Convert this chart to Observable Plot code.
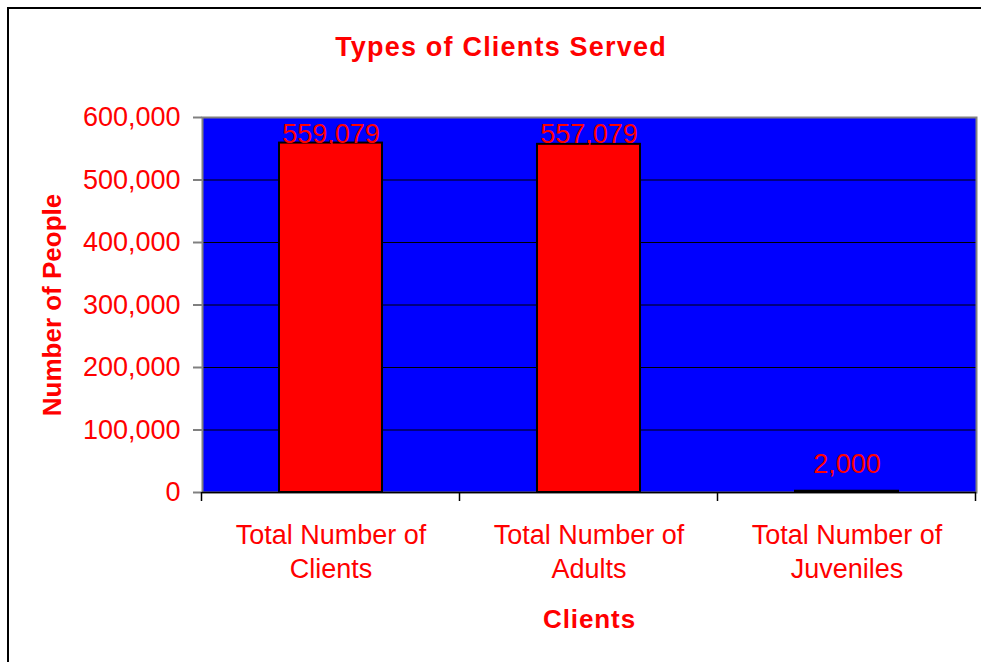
<!DOCTYPE html>
<html>
<head>
<meta charset="utf-8">
<script src="https://cdn.jsdelivr.net/npm/d3@7"></script>
<script src="https://cdn.jsdelivr.net/npm/@observablehq/plot@0.6"></script>
<style>
  html, body { margin: 0; padding: 0; background: #ffffff; }
  #wrap { position: relative; width: 981px; height: 662px; overflow: hidden; font-family: "Liberation Sans", Arial, sans-serif; }
  #title { position: absolute; left: 0; top: 34px; width: 1002px; text-align: center; color: #ff0000;
           font-size: 27px; line-height: 27px; font-weight: bold; letter-spacing: 1.2px; }
  #border { position: absolute; left: 7px; top: 7px; width: 1200px; height: 1000px; border: 2px solid #000; pointer-events: none; }
  #chart svg { position: absolute; left: 0; top: 0; }
  #chart [aria-label="x-axis label"], #chart [aria-label="y-axis label"] { font-weight: bold; font-size: 26px; }
  #chart [aria-label="x-axis label"] { letter-spacing: 0.9px; }
</style>
</head>
<body>
<div id="wrap">
  <div id="chart"></div>
  <div id="title">Types of Clients Served</div>
  <div id="border"></div>
</div>
<script>
// ---- data ----
const categories = ["Total Number of Clients", "Total Number of Adults", "Total Number of Juveniles"];
const values = [559079, 557079, 2000];
const xTickLabels = ["Total Number of\nClients", "Total Number of\nAdults", "Total Number of\nJuveniles"];
const yTicks = [0, 100000, 200000, 300000, 400000, 500000, 600000];
const yMax = 600000;

const data = categories.map((c, i) => ({category: c, value: values[i]}));

// ---- layout ----
const W = 981, H = 662;
const mL = 202, mR = 5, mT = 117, mB = 170;
const plotH = H - mT - mB;
const unitsPerPx = yMax / plotH;
const labelLift = 18, labelTopRoom = 25; // px (Excel-style outside-end labels, clamped inside plot)
const labelY = d => Math.min(d.value + labelLift * unitsPerPx, yMax - labelTopRoom * unitsPerPx);
const fmt = d3.format(",");

// ticks between categories (Excel style)
function bandBoundaryTicks(index, scales, values, dimensions) {
  const xs = scales.x;
  const desc = scales.scales && scales.scales.x;
  const bw = desc && desc.bandwidth != null ? desc.bandwidth : (xs.bandwidth ? xs.bandwidth() : 0);
  const step = xs(categories[1]) - xs(categories[0]);
  const gap = (step - bw) / 2;
  const xsPos = categories.map(c => xs(c) - gap);
  xsPos.push(xs(categories[categories.length - 1]) + bw + gap);
  const y0 = dimensions.height - dimensions.marginBottom;
  const g = d3.create("svg:g").attr("aria-label", "x-axis boundary tick");
  g.selectAll("line").data(xsPos).join("line")
    .attr("x1", d => d).attr("x2", d => d)
    .attr("y1", y0).attr("y2", y0 + 9)
    .attr("stroke", "#000").attr("stroke-width", 1.5);
  return g.node();
}

const chart = Plot.plot({
  width: W,
  height: H,
  marginLeft: mL,
  marginRight: mR,
  marginTop: mT,
  marginBottom: mB,
  style: {fontFamily: "'Liberation Sans', Arial, sans-serif", fontSize: "27px", color: "#ff0000", background: "transparent", overflow: "visible"},
  x: {domain: categories, paddingInner: 0.6, paddingOuter: 0.3},
  y: {domain: [0, yMax]},
  marks: [
    Plot.frame({fill: "#0000ff", stroke: null}),
    Plot.gridY(yTicks.slice(1, -1), {stroke: "#000", strokeOpacity: 1, strokeWidth: 1}),
    Plot.frame({stroke: "#808080", strokeWidth: 2, fill: null}),
    Plot.ruleY([0], {stroke: "#000", strokeWidth: 1.5}),
    Plot.barY(data, {x: "category", y: "value", fill: "#ff0000", stroke: "#000", strokeWidth: 2}),
    Plot.text(data, {x: "category", y: labelY, text: d => fmt(d.value), fill: "#ff0000", fontSize: 27, lineAnchor: "bottom"}),
    Plot.axisY({
      ticks: yTicks, tickFormat: fmt, tickSize: 9, tickPadding: 13, fontSize: 27,
      color: "#ff0000", stroke: "#808080", strokeWidth: 2,
      label: "Number of People", labelAnchor: "center", labelOffset: 160, labelArrow: "none"
    }),
    Plot.axisX({
      tickSize: 0, tickPadding: 27, color: "#ff0000", lineHeight: 34 / 27, fontSize: 27,
      tickFormat: (d) => xTickLabels[categories.indexOf(d)],
      label: "Clients", labelAnchor: "center", labelOffset: 135, labelArrow: "none"
    }),
    bandBoundaryTicks
  ]
});

document.getElementById("chart").appendChild(chart);
</script>
</body>
</html>
